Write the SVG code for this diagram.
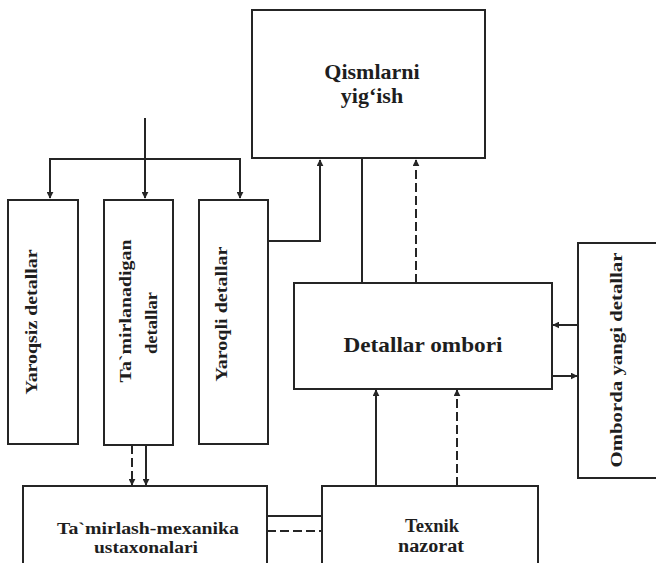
<svg xmlns="http://www.w3.org/2000/svg" width="656" height="563" viewBox="0 0 656 563">
<defs>
<style>
.box{fill:#fff;stroke:#252525;stroke-width:2}
.ln{fill:none;stroke:#252525;stroke-width:2}
.dash{fill:none;stroke:#252525;stroke-width:2;stroke-dasharray:9 4}
.t{font-family:"Liberation Serif","Times New Roman",serif;font-weight:bold;fill:#1e1e1e;text-anchor:middle}
</style>
<marker id="ah" viewBox="0 0 10 10" refX="9" refY="5" markerWidth="3.5" markerHeight="3.5" orient="auto" markerUnits="strokeWidth">
<path d="M0,0 L10,5 L0,10 Z" fill="#252525"/>
</marker>
</defs>
<rect width="656" height="563" fill="#fff"/>

<g id="connectors">
<path class="ln" d="M145,118 V198" marker-end="url(#ah)"/>
<path class="ln" d="M145,159 H50 V198" marker-end="url(#ah)"/>
<path class="ln" d="M145,159 H240 V198" marker-end="url(#ah)"/>
<path class="ln" d="M268,241 H320 V160" marker-end="url(#ah)"/>
<path class="ln" d="M362,159 V283"/>
<path class="dash" d="M416,283 V160" marker-end="url(#ah)"/>
<path class="ln" d="M376,486 V390" marker-end="url(#ah)"/>
<path class="dash" d="M457,486 V390" marker-end="url(#ah)"/>
<path class="ln" d="M578,325 H553" marker-end="url(#ah)"/>
<path class="ln" d="M552,376 H577" marker-end="url(#ah)"/>
<path class="dash" d="M132,445 V485" marker-end="url(#ah)"/>
<path class="ln" d="M146,445 V485" marker-end="url(#ah)"/>
<path class="ln" d="M267,516 H322"/>
<path class="dash" d="M267,531 H322"/>
</g>

<g id="qismlarni">
<rect class="box" x="252" y="10" width="233" height="148"/>
<text class="t" x="372" y="79" font-size="22">Qismlarni</text>
<text class="t" x="372" y="103" font-size="22">yig‘ish</text>
</g>

<g id="yaroqsiz">
<rect class="box" x="8" y="200" width="70" height="244"/>
<text class="t" transform="translate(37,322) rotate(-90)" font-size="17" textLength="145" lengthAdjust="spacingAndGlyphs">Yaroqsiz detallar</text>
</g>

<g id="tamirlanadigan">
<rect class="box" x="104" y="200" width="69" height="245"/>
<text class="t" transform="translate(131,311) rotate(-90)" font-size="17" textLength="143" lengthAdjust="spacingAndGlyphs">Ta`mirlanadigan</text>
<text class="t" transform="translate(157,323) rotate(-90)" font-size="17" textLength="62" lengthAdjust="spacingAndGlyphs">detallar</text>
</g>

<g id="yaroqli">
<rect class="box" x="199" y="200" width="69" height="244"/>
<text class="t" transform="translate(227,314) rotate(-90)" font-size="17" textLength="135" lengthAdjust="spacingAndGlyphs">Yaroqli detallar</text>
</g>

<g id="detallar-ombori">
<rect class="box" x="294" y="283" width="258" height="106"/>
<text class="t" x="423" y="352" font-size="22" textLength="159" lengthAdjust="spacingAndGlyphs">Detallar ombori</text>
</g>

<g id="omborda">
<rect class="box" x="578" y="243" width="90" height="235"/>
<text class="t" transform="translate(622,360) rotate(-90)" font-size="17" textLength="215" lengthAdjust="spacingAndGlyphs">Omborda yangi detallar</text>
</g>

<g id="tamirlash">
<rect class="box" x="23" y="486" width="244" height="90"/>
<text class="t" x="148" y="534" font-size="16" textLength="182" lengthAdjust="spacingAndGlyphs">Ta`mirlash-mexanika</text>
<text class="t" x="146" y="553" font-size="16" textLength="104" lengthAdjust="spacingAndGlyphs">ustaxonalari</text>
</g>

<g id="texnik">
<rect class="box" x="322" y="486" width="216" height="90"/>
<text class="t" x="432" y="532" font-size="18" textLength="54" lengthAdjust="spacingAndGlyphs">Texnik</text>
<text class="t" x="431" y="552" font-size="18" textLength="66" lengthAdjust="spacingAndGlyphs">nazorat</text>
</g>
</svg>
